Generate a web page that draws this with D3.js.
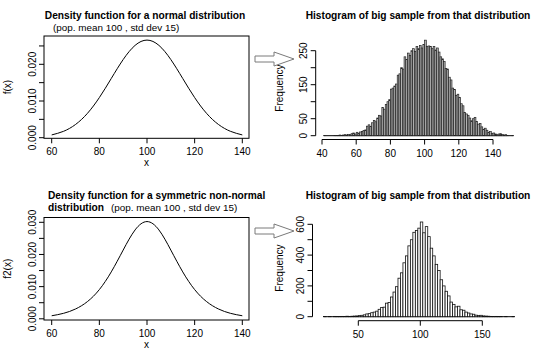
<!DOCTYPE html>
<html>
<head>
<meta charset="utf-8">
<script src="https://cdn.jsdelivr.net/npm/d3@7"></script>
<style>
  html, body { margin: 0; padding: 0; background: #fff; }
  svg text { font-family: "Liberation Sans", Arial, sans-serif; fill: #000; }
</style>
</head>
<body>
<svg id="chart" width="540" height="359"></svg>
<script>
// ---------------- data ----------------
const curveX = [60, 65, 70, 75, 80, 85, 90, 95, 100, 105, 110, 115, 120, 125, 130, 135, 140];
const normalDensity = [0.000760, 0.001748, 0.003599, 0.006633, 0.010934, 0.016131, 0.021296, 0.025159,
  0.026596, 0.025159, 0.021296, 0.016131, 0.010934, 0.006633, 0.003599, 0.001748, 0.000760];
const symDensity = [0.000944, 0.001706, 0.003050, 0.005350, 0.009080, 0.014580, 0.021370, 0.027630,
  0.030230, 0.027630, 0.021370, 0.014580, 0.009080, 0.005350, 0.003050, 0.001706, 0.000944];

// histogram 1: bins of width 1 starting at 41
const hist1Start = 41, hist1Width = 1;
const hist1Counts = [1, 0, 0, 0, 0, 0, 1, 1, 1, 2,
  1, 2, 3, 2, 4, 3, 6, 8, 5, 10,
  7, 11, 12, 15, 17, 28, 32, 27, 38, 45,
  41, 52, 60, 58, 83, 78, 92, 100, 106, 137,
  140, 146, 152, 178, 182, 200, 196, 232, 224, 243,
  236, 250, 256, 248, 262, 256, 265, 258, 268, 281,
  262, 264, 262, 256, 262, 252, 258, 246, 232, 226,
  218, 198, 196, 172, 164, 140, 136, 118, 122, 112,
  94, 88, 68, 64, 60, 52, 44, 50, 54, 42,
  34, 36, 26, 19, 22, 16, 10, 12, 7, 8,
  5, 3, 5, 6, 4, 2, 3, 1, 0, 0, 1];

// histogram 2: bins of width 2 starting at 22
const hist2Start = 22, hist2Width = 2;
const hist2Counts = [1, 0, 1, 0, 2, 1, 1, 2, 1, 3,
  2, 3, 4, 5, 7, 9, 12, 18, 20, 26,
  30, 36, 48, 60, 62, 88, 92, 128, 160, 195,
  250, 285, 350, 395, 460, 500, 548, 560, 575, 615,
  545, 585, 520, 445, 395, 340, 300, 240, 200, 165,
  135, 95, 80, 64, 68, 45, 42, 30, 24, 18,
  16, 10, 8, 9, 5, 4, 3, 2, 1, 2,
  1, 1, 0, 1, 0, 0, 1];

const densXTicks = [60, 80, 100, 120, 140];
const dens1YTicks = [0, 0.005, 0.010, 0.015, 0.020, 0.025];
const dens1YLabels = ["0.000", "", "0.010", "", "0.020", ""];
const dens2YTicks = [0, 0.005, 0.010, 0.015, 0.020, 0.025, 0.030];
const dens2YLabels = ["0.000", "", "0.010", "", "0.020", "", "0.030"];
const hist1XTicks = [40, 60, 80, 100, 120, 140];
const hist1YTicks = [0, 50, 100, 150, 200, 250];
const hist1YLabels = ["0", "50", "", "150", "", "250"];
const hist2XTicks = [50, 100, 150];
const hist2YTicks = [0, 100, 200, 300, 400, 500, 600];
const hist2YLabels = ["0", "", "200", "", "400", "", "600"];

// ---------------- drawing ----------------
const svg = d3.select("#chart");
const FS = 10;

function yTicks(g, axisX, scale, ticks, labels, labelX) {
  g.append("line").attr("x1", axisX).attr("x2", axisX)
    .attr("y1", scale(ticks[0])).attr("y2", scale(ticks[ticks.length - 1]))
    .attr("stroke", "#000");
  ticks.forEach((t, i) => {
    g.append("line").attr("x1", axisX).attr("x2", axisX - 5)
      .attr("y1", scale(t)).attr("y2", scale(t)).attr("stroke", "#000");
    if (labels[i]) {
      g.append("text").attr("transform", `translate(${labelX},${scale(t)}) rotate(-90)`)
        .attr("text-anchor", "middle").attr("font-size", FS).text(labels[i]);
    }
  });
}
function xTicks(g, axisY, scale, ticks, labelY) {
  g.append("line").attr("y1", axisY).attr("y2", axisY)
    .attr("x1", scale(ticks[0])).attr("x2", scale(ticks[ticks.length - 1]))
    .attr("stroke", "#000");
  ticks.forEach(t => {
    g.append("line").attr("y1", axisY).attr("y2", axisY + 5)
      .attr("x1", scale(t)).attr("x2", scale(t)).attr("stroke", "#000");
    g.append("text").attr("x", scale(t)).attr("y", labelY)
      .attr("text-anchor", "middle").attr("font-size", FS).text(t);
  });
}
function rotLabel(g, x, y, txt) {
  g.append("text").attr("transform", `translate(${x},${y}) rotate(-90)`)
    .attr("text-anchor", "middle").attr("font-size", FS).text(txt);
}

function densityPanel(dy, yDomainTop, yRangeTop, yZero, box, yt, ylabs, ylab, values) {
  const g = svg.append("g");
  const x = d3.scaleLinear().domain([60, 140]).range([51.7, 242.3]);
  const y = d3.scaleLinear().domain([0, yDomainTop]).range([yZero, yRangeTop]);
  g.append("rect").attr("x", 44).attr("y", box[0]).attr("width", 205).attr("height", box[1] - box[0])
    .attr("fill", "none").attr("stroke", "#000");
  yt.forEach((t, i) => {
    g.append("line").attr("x1", 44).attr("x2", 39).attr("y1", y(t)).attr("y2", y(t)).attr("stroke", "#000");
    if (ylabs[i]) {
      g.append("text").attr("transform", `translate(35.5,${y(t)}) rotate(-90)`)
        .attr("text-anchor", "middle").attr("font-size", FS).text(ylabs[i]);
    }
  });
  densXTicks.forEach(t => {
    g.append("line").attr("y1", box[1]).attr("y2", box[1] + 5).attr("x1", x(t)).attr("x2", x(t)).attr("stroke", "#000");
    g.append("text").attr("x", x(t)).attr("y", box[1] + 17).attr("text-anchor", "middle")
      .attr("font-size", FS).text(t);
  });
  g.append("text").attr("x", 146.5).attr("y", box[1] + 28).attr("text-anchor", "middle")
    .attr("font-size", FS).text("x");
  rotLabel(g, 10.5, (box[0] + box[1]) / 2, ylab);
  const line = d3.line().x((d, i) => x(curveX[i])).y(d => y(d)).curve(d3.curveNatural);
  g.append("path").attr("d", line(values)).attr("fill", "none").attr("stroke", "#000").attr("stroke-width", 1);
  return g;
}

// Top-left
const g1 = densityPanel(0, 0.020, 64.3, 137.7, [36, 138.3], dens1YTicks, dens1YLabels, "f(x)", normalDensity);
g1.append("text").attr("x", 145).attr("y", 18.5).attr("text-anchor", "middle")
  .attr("font-size", 10.2).attr("font-weight", "bold").text("Density function for a normal distribution");
g1.append("text").attr("x", 53).attr("y", 30.5).attr("font-size", 9.9)
  .text("(pop. mean 100 , std dev 15)");

// Bottom-left
const g2 = densityPanel(0, 0.030, 222.3, 318.8, [217.5, 320], dens2YTicks, dens2YLabels, "f2(x)", symDensity);
g2.append("text").attr("x", 48).attr("y", 198.5).attr("font-size", 10.2).attr("font-weight", "bold")
  .text("Density function for a symmetric non-normal");
const t2 = g2.append("text").attr("x", 48).attr("y", 210.5).attr("font-size", 10.2);
t2.append("tspan").attr("font-weight", "bold").text("distribution");
t2.append("tspan").attr("x", 111).attr("font-size", 9.9).text("(pop. mean 100 , std dev 15)");

// Histograms
function histPanel(cfg) {
  const g = svg.append("g");
  const x = d3.scaleLinear().domain(cfg.xDom).range(cfg.xRange);
  const y = d3.scaleLinear().domain(cfg.yDom).range(cfg.yRange);
  const n = cfg.counts.length;
  const lo = cfg.start, hi = cfg.start + n * cfg.width;
  g.append("line").attr("x1", x(lo)).attr("x2", x(hi)).attr("y1", y(0)).attr("y2", y(0))
    .attr("stroke", "#000");
  g.selectAll("rect.bar").data(cfg.counts).enter().append("rect")
    .attr("class", "bar")
    .attr("x", (d, i) => x(cfg.start + i * cfg.width))
    .attr("width", x(cfg.start + cfg.width) - x(cfg.start))
    .attr("y", d => y(d))
    .attr("height", d => y(0) - y(d))
    .attr("fill", cfg.fill).attr("stroke", cfg.stroke).attr("stroke-width", cfg.sw);
  yTicks(g, cfg.axisX, y, cfg.yTicks, cfg.yLabels, cfg.axisX - 8.5);
  xTicks(g, cfg.axisY, x, cfg.xTicks, cfg.axisY + 17.5);
  rotLabel(g, 283, cfg.midY, "Frequency");
  g.append("text").attr("x", 418).attr("y", cfg.titleY).attr("text-anchor", "middle")
    .attr("font-size", 10.2).attr("font-weight", "bold").text("Histogram of big sample from that distribution");
}
histPanel({
  xDom: [40, 140], xRange: [322, 493], yDom: [0, 250], yRange: [135.7, 50.7],
  counts: hist1Counts, start: hist1Start, width: hist1Width, fill: "#b4b4b4", stroke: "#222", sw: 0.7,
  axisX: 315.7, axisY: 139.5, xTicks: hist1XTicks, yTicks: hist1YTicks, yLabels: hist1YLabels,
  midY: 88, titleY: 18.5
});
histPanel({
  xDom: [50, 150], xRange: [358.3, 482.3], yDom: [0, 600], yRange: [316.7, 224.3],
  counts: hist2Counts, start: hist2Start, width: hist2Width, fill: "#fff", stroke: "#111", sw: 0.8,
  axisX: 312.5, axisY: 320.7, xTicks: hist2XTicks, yTicks: hist2YTicks, yLabels: hist2YLabels,
  midY: 268, titleY: 198.5
});

// Arrows
function arrow(cy) {
  const pts = [[255, cy - 3], [274, cy - 3], [274, cy - 7], [294, cy], [274, cy + 7], [274, cy + 3], [255, cy + 3]];
  svg.append("path").attr("d", d3.line()(pts) + "Z").attr("fill", "#fff")
    .attr("stroke", "#7a7a7a").attr("stroke-width", 1);
}
arrow(59);
arrow(231);
</script>
</body>
</html>
